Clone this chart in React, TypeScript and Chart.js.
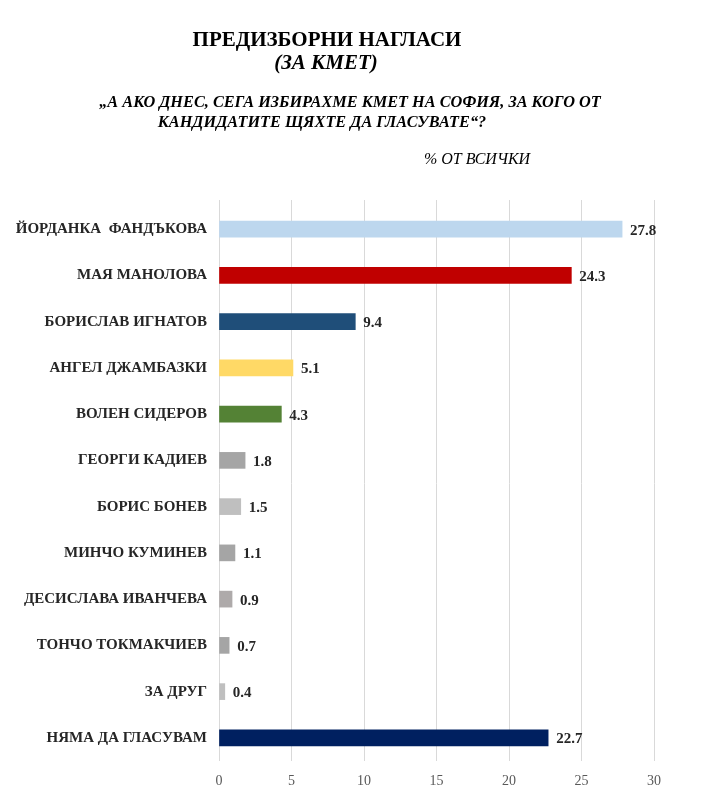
import React, { useEffect, useRef } from "react";
import { Chart, registerables } from "chart.js";

Chart.register(...registerables);

const categories = [
  "ЙОРДАНКА  ФАНДЪКОВА",
  "МАЯ МАНОЛОВА",
  "БОРИСЛАВ ИГНАТОВ",
  "АНГЕЛ ДЖАМБАЗКИ",
  "ВОЛЕН СИДЕРОВ",
  "ГЕОРГИ КАДИЕВ",
  "БОРИС БОНЕВ",
  "МИНЧО КУМИНЕВ",
  "ДЕСИСЛАВА ИВАНЧЕВА",
  "ТОНЧО ТОКМАКЧИЕВ",
  "ЗА ДРУГ",
  "НЯМА ДА ГЛАСУВАМ",
];

const values = [27.8, 24.3, 9.4, 5.1, 4.3, 1.8, 1.5, 1.1, 0.9, 0.7, 0.4, 22.7];

const barColors = [
  "#BDD7EE",
  "#C00000",
  "#1F4E79",
  "#FFD966",
  "#548235",
  "#A5A5A5",
  "#BFBFBF",
  "#A5A5A5",
  "#AEAAAA",
  "#A5A5A5",
  "#BFBFBF",
  "#002060",
];

const xTicks = [0, 5, 10, 15, 20, 25, 30];

const FONT = "'Liberation Serif', 'Times New Roman', serif";

const valueLabels = {
  id: "valueLabels",
  afterDatasetsDraw(chart: any) {
    const ctx = chart.ctx;
    const meta = chart.getDatasetMeta(0);
    ctx.save();
    ctx.font = `bold 15px ${FONT}`;
    ctx.fillStyle = "#262626";
    ctx.textAlign = "left";
    ctx.textBaseline = "middle";
    meta.data.forEach((bar: any, i: number) => {
      ctx.fillText(values[i].toFixed(1), bar.x + 8, bar.y + 1.5);
    });
    ctx.restore();
  },
};

const gridExtend = {
  id: "gridExtend",
  beforeDatasetsDraw(chart: any) {
    const ctx = chart.ctx;
    const xs = chart.scales.x;
    const top = chart.chartArea.top;
    ctx.save();
    ctx.strokeStyle = "#D9D9D9";
    ctx.lineWidth = 1;
    xTicks.forEach((v) => {
      const px = Math.round(xs.getPixelForValue(v) - 0.5) + 0.5;
      ctx.beginPath();
      ctx.moveTo(px, top - 6);
      ctx.lineTo(px, top);
      ctx.stroke();
    });
    ctx.restore();
  },
};

export default function App() {
  const canvasRef = useRef<HTMLCanvasElement | null>(null);

  useEffect(() => {
    if (!canvasRef.current) return;
    const chart = new Chart(canvasRef.current, {
      type: "bar",
      data: {
        labels: categories,
        datasets: [
          {
            data: values,
            backgroundColor: barColors,
            barThickness: 16,
            borderWidth: 0,
          },
        ],
      },
      options: {
        indexAxis: "y",
        animation: false,
        responsive: true,
        maintainAspectRatio: false,
        layout: { padding: { left: 0, top: 206, right: 73, bottom: 16 } },
        plugins: {
          legend: { display: false },
          tooltip: { enabled: false },
        },
        scales: {
          x: {
            min: 0,
            max: 30,
            afterBuildTicks: (scale: any) => {
              scale.ticks = xTicks.map((v) => ({ value: v }));
            },
            afterFit: (scale: any) => {
              scale.height = 32;
            },
            grid: { color: "#D9D9D9", drawTicks: false, lineWidth: 1 },
            border: { display: false },
            ticks: {
              padding: 12,
              color: "#595959",
              font: { family: FONT, size: 14 },
            },
          },
          y: {
            afterFit: (scale: any) => {
              scale.width = 219;
            },
            grid: { display: false, drawTicks: false },
            border: { display: false },
            ticks: {
              padding: 12,
              color: "#262626",
              font: { family: FONT, size: 15, weight: "bold" },
            },
          },
        },
      },
      plugins: [valueLabels, gridExtend],
    } as any);
    return () => chart.destroy();
  }, []);

  const base: React.CSSProperties = {
    position: "absolute",
    whiteSpace: "nowrap",
    fontFamily: FONT,
    color: "#000",
    margin: 0,
  };

  return (
    <div style={{ position: "relative", width: 711, height: 793 }}>
      <div style={{ position: "absolute", left: -8, top: -8, width: 727, height: 809 }}>
        <canvas ref={canvasRef} />
      </div>
      <div style={{ position: "absolute", left: -8, top: -8, width: 727, height: 809, pointerEvents: "none" }}>
        <div
          style={{
            ...base,
            left: 327,
            top: 29,
            transform: "translateX(-50%)",
            fontSize: 21,
            lineHeight: "21px",
            fontWeight: "bold",
          }}
        >
          ПРЕДИЗБОРНИ НАГЛАСИ
        </div>
        <div
          style={{
            ...base,
            left: 326,
            top: 52,
            transform: "translateX(-50%)",
            fontSize: 21,
            lineHeight: "21px",
            fontWeight: "bold",
            fontStyle: "italic",
          }}
        >
          (ЗА КМЕТ)
        </div>
        <div
          style={{
            ...base,
            left: 350,
            top: 94,
            transform: "translateX(-50%)",
            fontSize: 16.3,
            lineHeight: "16px",
            fontWeight: "bold",
            fontStyle: "italic",
          }}
        >
          „А АКО ДНЕС, СЕГА ИЗБИРАХМЕ КМЕТ НА СОФИЯ, ЗА КОГО ОТ
        </div>
        <div
          style={{
            ...base,
            left: 322,
            top: 114,
            transform: "translateX(-50%)",
            fontSize: 16.3,
            lineHeight: "16px",
            fontWeight: "bold",
            fontStyle: "italic",
          }}
        >
          КАНДИДАТИТЕ ЩЯХТЕ ДА ГЛАСУВАТЕ“?
        </div>
        <div
          style={{
            ...base,
            left: 477,
            top: 151,
            transform: "translateX(-50%)",
            fontSize: 16,
            lineHeight: "16px",
            fontStyle: "italic",
          }}
        >
          % ОТ ВСИЧКИ
        </div>
      </div>
    </div>
  );
}
